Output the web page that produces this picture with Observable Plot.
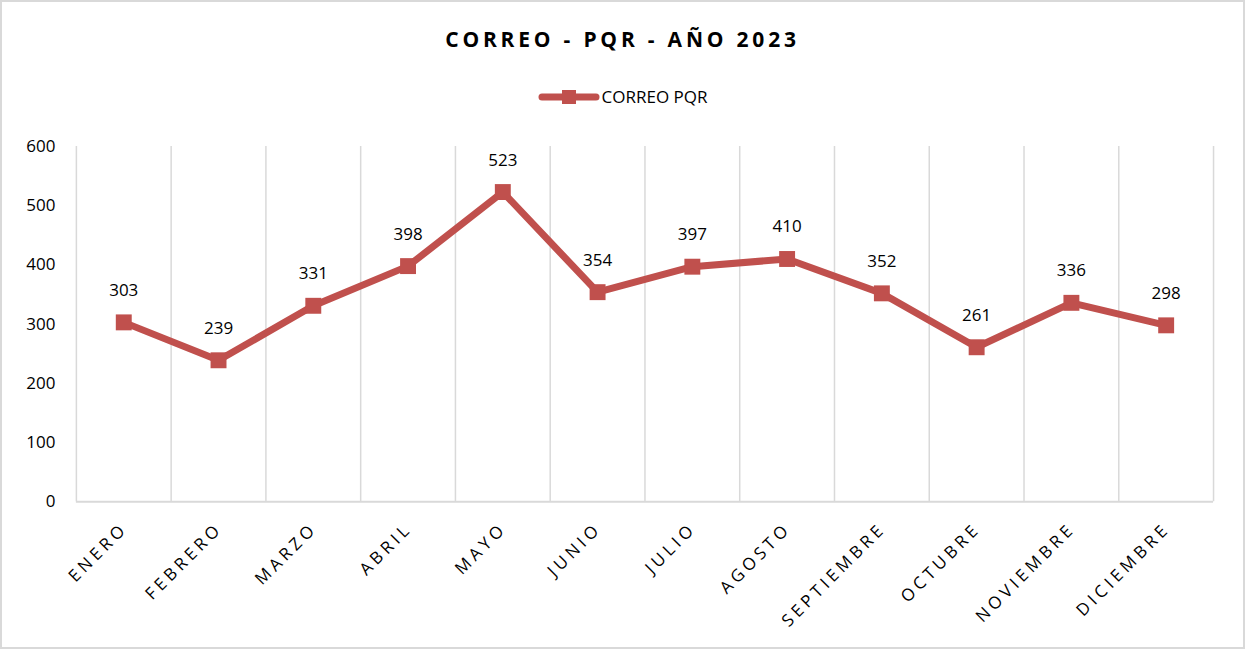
<!DOCTYPE html>
<html>
<head>
<meta charset="utf-8">
<script src="https://cdn.jsdelivr.net/npm/d3@7"></script>
<script src="https://cdn.jsdelivr.net/npm/@observablehq/plot@0.6"></script>
<style>
  body { margin: 0; background: #fff; }
  #wrap { position: relative; width: 1245px; height: 649px; box-sizing: border-box; border: 2px solid #d9d9d9; background: #fff; overflow: hidden; font-family: "Open Sans", sans-serif; }
  #title { position: absolute; left: 0; width: 1241px; top: 23px; text-align: center; font-weight: bold; font-size: 21px; letter-spacing: 3.8px; color: #000; }
  #legend { position: absolute; left: 0; width: 1241px; top: 83px; display: flex; justify-content: center; align-items: center; font-size: 17px; color: #000; }
  #chart { position: absolute; left: -2px; top: 108px; }
  #chart g[aria-label="x-axis tick label"] text { letter-spacing: 4px; }
</style>
</head>
<body>
<div id="wrap">
  <div id="title">CORREO - PQR - AÑO 2023</div>
  <div id="legend"></div>
  <div id="chart"></div>
</div>
<script>
const months = ["ENERO","FEBRERO","MARZO","ABRIL","MAYO","JUNIO","JULIO","AGOSTO","SEPTIEMBRE","OCTUBRE","NOVIEMBRE","DICIEMBRE"];
const values = [303, 239, 331, 398, 523, 354, 397, 410, 352, 261, 336, 298];
const yTicks = [0, 100, 200, 300, 400, 500, 600];
const seriesName = "CORREO PQR";
const color = "#C0504D";

const data = months.map((m, i) => ({month: m, pos: i + 0.5, value: values[i]}));
const boundaries = d3.range(months.length + 1);

// legend
const leg = document.getElementById("legend");
leg.innerHTML = `<svg width="62" height="20" style="margin-right:2px"><line x1="4" x2="58" y1="10" y2="10" stroke="${color}" stroke-width="7" stroke-linecap="round"/><rect x="24" y="3" width="14" height="14" fill="${color}"/></svg><span>${seriesName}</span>`;

const W = 1245, H = 541;
const xTicks = data.map(d => d.pos);
const chart = Plot.plot({
  width: W,
  height: H,
  marginLeft: 76,
  marginRight: 30,
  marginTop: 36,
  marginBottom: 149,
  style: {fontFamily: "Open Sans, sans-serif", fontSize: "16px", color: "#000", background: "transparent"},
  x: {domain: [0, months.length], label: null},
  y: {domain: [0, 600], label: null},
  marks: [
    Plot.ruleX(boundaries, {x: d => d, stroke: "#d9d9d9", strokeWidth: 1.5}),
    Plot.ruleY([0], {stroke: "#d9d9d9", strokeWidth: 2}),
    Plot.line(data, {x: "pos", y: "value", stroke: color, strokeWidth: 7, strokeLinejoin: "round"}),
    Plot.dot(data, {x: "pos", y: "value", symbol: "square", r: 9, fill: color}),
    Plot.text(data, {x: "pos", y: "value", text: d => String(d.value), dy: -32, fontSize: 17, fill: "#000"}),
    Plot.axisX({ticks: xTicks, tickFormat: p => months[Math.floor(p)], tickRotate: -45, tickSize: 0, tickPadding: 24, dx: 1, fontSize: 17, label: null}),
    Plot.axisY({ticks: yTicks, tickSize: 0, tickPadding: 21, fontSize: 17, label: null})
  ]
});
document.getElementById("chart").appendChild(chart);
</script>
</body>
</html>
